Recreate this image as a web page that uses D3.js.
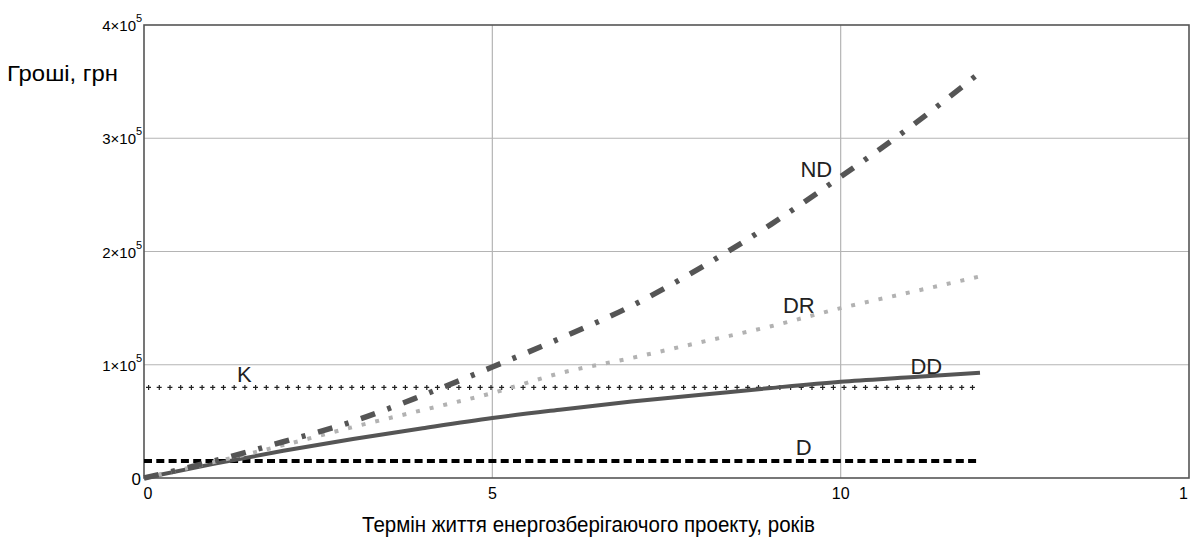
<!DOCTYPE html>
<html><head><meta charset="utf-8">
<script src="https://cdn.jsdelivr.net/npm/d3@7"></script>
<style>body{margin:0;background:#fff}svg{display:block}</style>
</head><body>
<svg id="c" width="1191" height="538"></svg>
<script>
const years = [0,1,2,3,4,5,6,7,8,9,10,11,12];
const ND = [0,0.15,0.32,0.50,0.73,0.98,1.24,1.52,1.86,2.24,2.66,3.10,3.58].map(v=>v*1e5);
const DR = [0,0.14,0.29,0.45,0.60,0.75,0.93,1.06,1.20,1.34,1.50,1.64,1.78].map(v=>v*1e5);
const DD = [0,0.125,0.24,0.345,0.44,0.53,0.605,0.675,0.735,0.795,0.85,0.89,0.93].map(v=>v*1e5);
const Kval = 0.8e5;
const Dval = 0.15e5;
const xTicks = [0,5,10,15];
const xTickLabels = ["0","5","10","1"];
const yTicks = [0,1e5,2e5,3e5,4e5];
const yTickLabels = ["0","1×10","2×10","3×10","4×10"];
const seriesLabels = [
  {t:"ND", x:9.65, y:2.66e5},
  {t:"DR", x:9.4, y:1.46e5},
  {t:"DD", x:11.23, y:0.92e5},
  {t:"K", x:1.44, y:0.85e5},
  {t:"D", x:9.47, y:0.205e5}
];

const svg = d3.select("#c");
const L=144, R=1189, T=25, B=478;
const x = d3.scaleLinear().domain([0,15]).range([L,R]);
const y = d3.scaleLinear().domain([0,4e5]).range([B,T]);
const font = "Liberation Sans, Arial, sans-serif";

// grid
svg.append("g").selectAll("line").data(xTicks.filter(d=>d>0&&d<15)).join("line")
  .attr("x1",d=>x(d)).attr("x2",d=>x(d)).attr("y1",T).attr("y2",B)
  .attr("stroke","#b4b4b4").attr("stroke-width",1.2);
svg.append("g").selectAll("line").data(yTicks.filter(d=>d>0&&d<4e5)).join("line")
  .attr("y1",d=>y(d)).attr("y2",d=>y(d)).attr("x1",L).attr("x2",R)
  .attr("stroke","#b4b4b4").attr("stroke-width",1.2);

// frame
svg.append("rect").attr("x",L).attr("y",T).attr("width",R-L).attr("height",B-T)
  .attr("fill","none").attr("stroke","#555").attr("stroke-width",1.6);

const line = d3.line().x((d,i)=>x(years[i])).y(d=>y(d)).curve(d3.curveMonotoneX);

// K dotted plus
const kPts = [[0,Kval],[12,Kval]];
const hl = d3.line().x(d=>x(d[0])).y(d=>y(d[1]));
svg.append("path").attr("d",hl(kPts)).attr("fill","none").attr("stroke","#222")
  .attr("stroke-width",1.2).attr("stroke-dasharray","5 5.7").attr("stroke-dashoffset",-2);
svg.append("path").attr("d",hl(kPts)).attr("fill","none").attr("stroke","#222")
  .attr("stroke-width",5).attr("stroke-dasharray","1.2 9.5").attr("stroke-dashoffset",-4);

// D dashed
svg.append("path").attr("d",hl([[0,Dval],[12,Dval]])).attr("fill","none").attr("stroke","#000")
  .attr("stroke-width",4).attr("stroke-dasharray","8 4.3");

// DD solid
svg.append("path").attr("d",line(DD)).attr("fill","none").attr("stroke","#555").attr("stroke-width",4);
// DR dotted
svg.append("path").attr("d",line(DR)).attr("fill","none").attr("stroke","#b2b2b2").attr("stroke-width",4)
  .attr("stroke-dasharray","4 10");
// ND dash-dot
svg.append("path").attr("d",line(ND)).attr("fill","none").attr("stroke","#555").attr("stroke-width",5.5)
  .attr("stroke-dasharray","15 13 4 13");

// axis tick labels
const yl = svg.append("g").attr("font-family",font).attr("font-size",15).attr("fill","#000");
yTicks.forEach((v,i)=>{
  if(i===0){
    yl.append("text").attr("x",L-3).attr("y",y(v)+7).attr("text-anchor","end").attr("font-size",17).text("0");
  } else {
    yl.append("text").attr("x",L-8).attr("y",y(v)+6).attr("text-anchor","end").text(yTickLabels[i]);
    yl.append("text").attr("x",L-8).attr("y",y(v)-3).attr("font-size",11).text("5");
  }
});
const xl = svg.append("g").attr("font-family",font).attr("font-size",16).attr("fill","#000");
xTicks.forEach((v,i)=>{
  xl.append("text").attr("x",v===15?x(v)-1:x(v)+(v===0?4:0)).attr("y",B+21)
    .attr("text-anchor",v===15?"end":"middle").text(xTickLabels[i]);
});

// titles
svg.append("text").attr("x",7).attr("y",81).attr("font-family",font).attr("font-size",22)
  .attr("textLength",111).attr("lengthAdjust","spacingAndGlyphs").text("Гроші, грн");
svg.append("text").attr("x",362).attr("y",532)
  .attr("font-family",font).attr("font-size",22)
  .attr("textLength",453).attr("lengthAdjust","spacingAndGlyphs").text("Термін життя енергозберігаючого проекту, років");

// series labels
svg.append("g").selectAll("text").data(seriesLabels).join("text")
  .attr("x",d=>x(d.x)).attr("y",d=>y(d.y)).attr("text-anchor","middle")
  .attr("font-family",font).attr("font-size",22).attr("fill","#222").text(d=>d.t);
</script>
</body></html>
